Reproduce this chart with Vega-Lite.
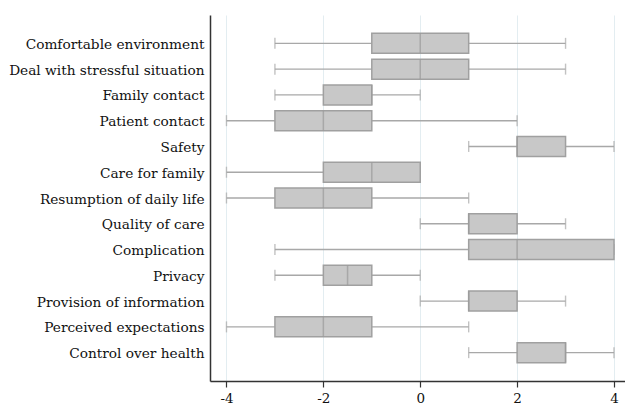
{
  "$schema": "https://vega.github.io/schema/vega-lite/v6.json",
  "width": 415,
  "height": 366,
  "autosize": {"type": "none"},
  "padding": {"left": 210, "top": 15, "right": 0, "bottom": 25},
  "background": "white",
  "config": {"view": {"stroke": null}},
  "data": {"values": [
    {"cat": "Comfortable environment", "min": -3, "q1": -1, "median": 0, "q3": 1, "max": 3},
    {"cat": "Deal with stressful situation", "min": -3, "q1": -1, "median": 0, "q3": 1, "max": 3},
    {"cat": "Family contact", "min": -3, "q1": -2, "median": -1, "q3": -1, "max": 0},
    {"cat": "Patient contact", "min": -4, "q1": -3, "median": -2, "q3": -1, "max": 2},
    {"cat": "Safety", "min": 1, "q1": 2, "median": 2, "q3": 3, "max": 4},
    {"cat": "Care for family", "min": -4, "q1": -2, "median": -1, "q3": 0, "max": 0},
    {"cat": "Resumption of daily life", "min": -4, "q1": -3, "median": -2, "q3": -1, "max": 1},
    {"cat": "Quality of care", "min": 0, "q1": 1, "median": 1, "q3": 2, "max": 3},
    {"cat": "Complication", "min": -3, "q1": 1, "median": 2, "q3": 4, "max": 4},
    {"cat": "Privacy", "min": -3, "q1": -2, "median": -1.5, "q3": -1, "max": 0},
    {"cat": "Provision of information", "min": 0, "q1": 1, "median": 1, "q3": 2, "max": 3},
    {"cat": "Perceived expectations", "min": -4, "q1": -3, "median": -2, "q3": -1, "max": 1},
    {"cat": "Control over health", "min": 1, "q1": 2, "median": 3, "q3": 3, "max": 4}
  ]},
  "encoding": {
    "y": {
      "field": "cat", "type": "nominal", "sort": null,
      "scale": {"paddingInner": 0.2, "paddingOuter": 0.7},
      "axis": {
        "title": null, "ticks": false, "labelPadding": 6, "labelLimit": 300, "labelOffset": 1.5,
        "labelFont": "DejaVu Serif", "labelFontSize": 13.7, "labelColor": "#111",
        "domainColor": "#333", "domainWidth": 1.5, "grid": false
      }
    }
  },
  "layer": [
    {
      "mark": {"type": "rule", "color": "#a8a8a8", "strokeWidth": 1.4},
      "encoding": {
        "x": {
          "field": "min", "type": "quantitative",
          "scale": {"domain": [-4.34, 4.227], "nice": false, "zero": false},
          "axis": {
            "title": null, "values": [-4, -2, 0, 2, 4], "grid": true,
            "labelExpr": "'' + datum.value",
            "gridColor": "#e3edf1", "gridWidth": 1,
            "domainColor": "#333", "domainWidth": 1.5,
            "tickColor": "#333", "tickSize": 6, "tickWidth": 1.2,
            "labelFont": "DejaVu Serif", "labelFontSize": 13.5, "labelColor": "#111",
            "labelPadding": 4
          }
        },
        "x2": {"field": "max"}
      }
    },
    {
      "mark": {"type": "tick", "orient": "vertical", "color": "#a8a8a8", "size": 11, "thickness": 1.4},
      "encoding": {"x": {"field": "min", "type": "quantitative"}}
    },
    {
      "mark": {"type": "tick", "orient": "vertical", "color": "#a8a8a8", "size": 11, "thickness": 1.4},
      "encoding": {"x": {"field": "max", "type": "quantitative"}}
    },
    {
      "mark": {"type": "bar", "fill": "#c8c8c8", "stroke": "#a0a0a0", "strokeWidth": 1.5, "size": 20},
      "encoding": {
        "x": {"field": "q1", "type": "quantitative"},
        "x2": {"field": "q3"}
      }
    },
    {
      "mark": {"type": "tick", "orient": "vertical", "color": "#9a9a9a", "size": 20, "thickness": 1.5},
      "encoding": {"x": {"field": "median", "type": "quantitative"}}
    }
  ]
}
